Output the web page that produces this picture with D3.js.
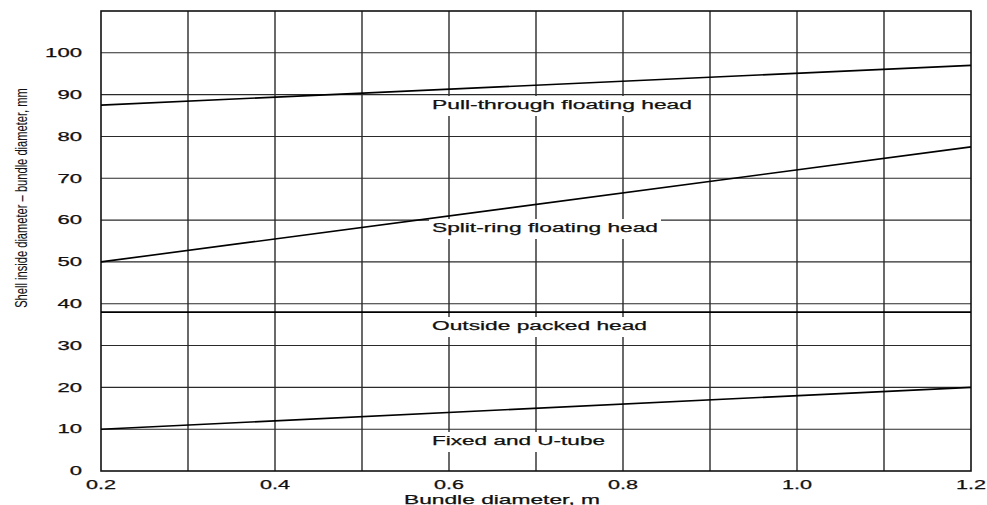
<!DOCTYPE html>
<html>
<head>
<meta charset="utf-8">
<script src="https://cdn.jsdelivr.net/npm/d3@7/dist/d3.min.js"></script>
<style>
  html, body { margin: 0; padding: 0; background: #fff; }
  svg { display: block; }
  text { font-family: "Liberation Sans", Arial, Helvetica, sans-serif; fill: #111; stroke: #111; stroke-width: 0.25; }
</style>
</head>
<body>
<svg id="chart" width="987" height="505"></svg>
<script>
// ---- data ----
const bundleDiameter = [0.2, 1.2];
const pullThrough   = [87.5, 97];
const splitRing     = [50, 77.5];
const outsidePacked = [38, 38];
const fixedUTube    = [10, 20];
const seriesNames = ["Pull-through floating head", "Split-ring floating head", "Outside packed head", "Fixed and U-tube"];
const xTickValues = [0.2, 0.4, 0.6, 0.8, 1.0, 1.2];
const xGridValues = [0.3, 0.4, 0.5, 0.6, 0.7, 0.8, 0.9, 1.0, 1.1];
const yTickValues = [0, 10, 20, 30, 40, 50, 60, 70, 80, 90, 100];
const xTitle = "Bundle diameter, m";
const yTitle = "Shell inside diameter \u2013 bundle diameter, mm";

// ---- layout ----
const W = 987, H = 505;
const margin = { left: 101, right: 16, top: 11, bottom: 34 };
const svg = d3.select("#chart");
const x = d3.scaleLinear().domain([0.2, 1.2]).range([margin.left, W - margin.right]);
const y = d3.scaleLinear().domain([0, 110]).range([H - margin.bottom, margin.top]);

const gridColor = "#2a2a2a";

// horizontal grid
svg.append("g").selectAll("line").data(yTickValues.filter(d => d > 0)).join("line")
  .attr("x1", x(0.2)).attr("x2", x(1.2))
  .attr("y1", d => y(d)).attr("y2", d => y(d))
  .attr("stroke", gridColor).attr("stroke-width", 1.1);

// vertical grid
svg.append("g").selectAll("line").data(xGridValues).join("line")
  .attr("x1", d => x(d)).attr("x2", d => x(d))
  .attr("y1", y(0)).attr("y2", y(110))
  .attr("stroke", gridColor).attr("stroke-width", 1.4);

// frame
svg.append("rect")
  .attr("x", x(0.2)).attr("y", y(110))
  .attr("width", x(1.2) - x(0.2)).attr("height", y(0) - y(110))
  .attr("fill", "none").attr("stroke", "#111").attr("stroke-width", 1.6);

function stretch(sel, width) {
  sel.attr("textLength", width).attr("lengthAdjust", "spacingAndGlyphs");
}

// series label backgrounds (drawn before lines so lines stay visible)
const labelPos = [
  { x: 432, base: 109, w: 260 },
  { x: 432, base: 232, w: 226 },
  { x: 432, base: 330, w: 215 },
  { x: 432, base: 445, w: 173 }
];
const lg = svg.append("g");
seriesNames.forEach((name, i) => {
  const p = labelPos[i];
  lg.append("rect")
    .attr("x", p.x - 3).attr("y", p.base - 13)
    .attr("width", p.w + 6).attr("height", 20)
    .attr("fill", "#fff");
});

// series lines
const seriesData = [pullThrough, splitRing, outsidePacked, fixedUTube];
const line = d3.line().x((d, i) => x(bundleDiameter[i])).y(d => y(d));
svg.append("g").selectAll("path").data(seriesData).join("path")
  .attr("d", d => line(d))
  .attr("fill", "none").attr("stroke", "#000").attr("stroke-width", 1.6);

seriesNames.forEach((name, i) => {
  const p = labelPos[i];
  const t = svg.append("text")
    .attr("x", p.x).attr("y", p.base)
    .attr("font-size", 12.5).text(name);
  stretch(t, p.w);
});

// y tick labels
svg.append("g").selectAll("text").data(yTickValues).join("text")
  .attr("x", 82).attr("y", d => y(d) + 4.3)
  .attr("text-anchor", "end").attr("font-size", 12)
  .text(d => d)
  .each(function(d) {
    const s = String(d);
    d3.select(this).attr("textLength", s.length * 12.3).attr("lengthAdjust", "spacingAndGlyphs");
  });

// x tick labels
svg.append("g").selectAll("text").data(xTickValues).join("text")
  .attr("x", d => x(d)).attr("y", 488.5)
  .attr("text-anchor", "middle").attr("font-size", 12)
  .text(d => d.toFixed(1))
  .attr("textLength", 30).attr("lengthAdjust", "spacingAndGlyphs");

// x title
const xt = svg.append("text")
  .attr("x", 404).attr("y", 503.5)
  .attr("font-size", 13).text(xTitle);
stretch(xt, 196);

// y title (condensed to the reference length via horizontal scale)
const yt = svg.append("text")
  .attr("text-anchor", "middle")
  .attr("font-size", 16)
  .style("stroke-width", 0.1)
  .text(yTitle);
const natural = yt.node().getComputedTextLength();
const sx = 220 / natural;
yt.attr("transform", `translate(27,198) rotate(-90) scale(${sx},1)`);
</script>
</body>
</html>
